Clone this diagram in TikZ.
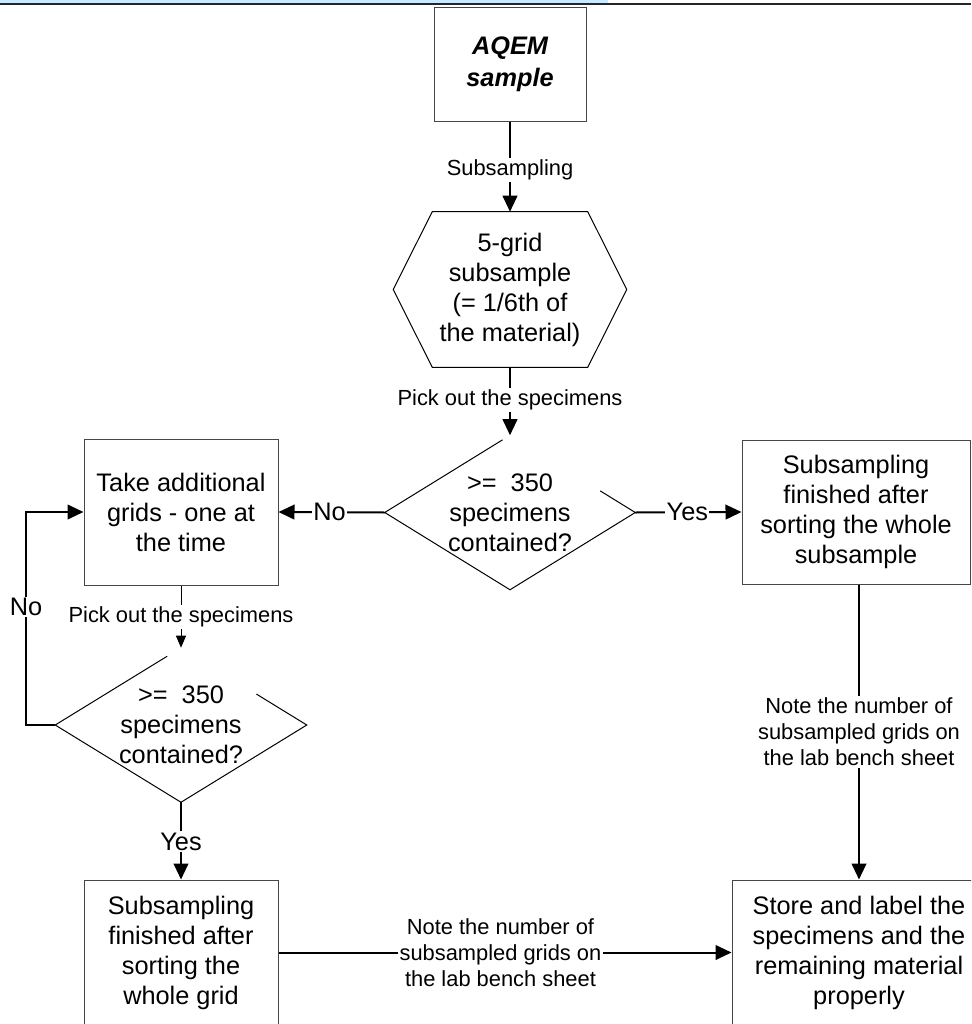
\documentclass[tikz,border=0pt]{standalone}
\usepackage{fontspec}
\setmainfont{Liberation Sans}
\usetikzlibrary{arrows.meta,calc,positioning}
\definecolor{BarBlue}{RGB}{204,232,255}
\definecolor{FrameGrey}{RGB}{70,70,70}

\begin{document}
\begin{tikzpicture}[x=0.75pt,y=-0.75pt,>={Triangle[length=12pt,width=11pt]},
  box/.style={draw=FrameGrey,line width=0.75pt,align=center,inner sep=0pt,font=\fontsize{19}{22.5}\selectfont},
  shapebox/.style={align=center,inner sep=0pt,font=\fontsize{19}{22.5}\selectfont},
  flow/.style={->,line width=1.5pt},
  thinflow/.style={-{Triangle[length=9pt,width=7.5pt]},line width=0.75pt},
  lbl/.style={fill=white,inner sep=1.5pt,align=center,font=\fontsize{16.4}{19.5}\selectfont},
  yn/.style={fill=white,inner sep=1pt,font=\fontsize{19}{22.5}\selectfont}]
  \useasboundingbox (0,0) rectangle (971,1024);
  \clip (0,0) rectangle (971,1024);
  % header bar
  \fill[BarBlue] (0,0) rectangle (608,3.2);
  \draw[line width=1.5pt,black!85] (0,4.5) -- (971,4.5);

  % boxes
  \node[box,minimum width=114pt,minimum height=84.75pt,font=\fontsize{19}{24}\selectfont\bfseries\itshape] (aqem) at (510,64.5) {AQEM\\sample};
  \node[shapebox,minimum width=174.75pt,minimum height=116.25pt] (grid5) at (510,289.5) {5-grid\\subsample\\(= 1/6th of\\the material)};
  \draw[line width=0.75pt] (grid5.west) -- ($(grid5.north west)+(39,0)$) -- ($(grid5.north east)+(-39,0)$)
    -- (grid5.east) -- ($(grid5.south east)+(-39,0)$) -- ($(grid5.south west)+(39,0)$) -- cycle;
  \node[shapebox,minimum width=187.5pt,minimum height=115.5pt] (count1) at (510,512.5) {>=\ \ 350\\specimens\\contained?};
  \draw[line width=0.75pt] ($(count1.north)!0.06!(count1.west)$) -- (count1.west) -- (count1.south)
    -- (count1.east) -- ($(count1.east)!0.28!(count1.north)$);
  \node[box,minimum width=145.5pt,minimum height=109.5pt] (extra) at (181,512) {Take additional\\grids - one at\\the time};
  \node[box,minimum width=171pt,minimum height=108pt] (doneA) at (856,512) {Subsampling\\finished after\\sorting the whole\\subsample};
  \node[shapebox,minimum width=188.25pt,minimum height=115.5pt] (count2) at (181,725) {>=\ \ 350\\specimens\\contained?};
  \draw[line width=0.75pt] ($(count2.north)!0.11!(count2.west)$) -- (count2.west) -- (count2.south)
    -- (count2.east) -- ($(count2.east)!0.4!(count2.north)$);
  \node[box,minimum width=145.5pt,minimum height=108.75pt] (doneB) at (181,952.5) {Subsampling\\finished after\\sorting the\\whole grid};
  \node[box,minimum width=190.5pt,minimum height=108.75pt] (store) at (859,952.5) {Store and label the\\specimens and the\\remaining material\\properly};

  % connectors
  \draw[flow] (aqem.south) -- node[lbl,pos=0.54] {Subsampling} (grid5.north);
  \draw[flow] (grid5.south) -- node[lbl,pos=0.48] {Pick out the specimens} (count1.north);
  \draw[flow] (count1.west) -- node[yn,pos=0.52] {No} (extra.east);
  \draw[flow] (count1.east) -- node[yn,pos=0.49] {Yes} (doneA.west);
  \draw[thinflow] (extra.south) -- node[lbl,pos=0.51] {Pick out the specimens} (count2.north);
  \coordinate (noturn) at (26,725);
  \draw[flow] (count2.west) -- (noturn) |- node[yn,pos=0.277] {No} (extra.west);
  \draw[flow] (count2.south) -- node[yn,pos=0.51] {Yes} (doneB.north);
  \draw[flow] (doneB.east) -- node[lbl,pos=0.49] {Note the number of\\subsampled grids on\\the lab bench sheet} (store.west);
  \draw[flow] (store.north |- doneA.south) -- node[lbl,pos=0.5] {Note the number of\\subsampled grids on\\the lab bench sheet} (store.north);
\end{tikzpicture}
\end{document}
